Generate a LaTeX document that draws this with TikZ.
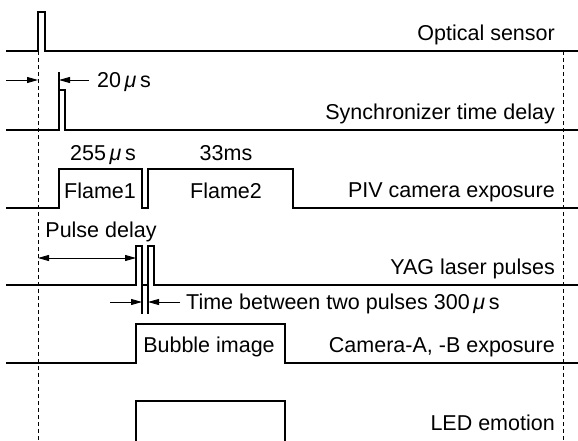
\documentclass[tikz,border=0pt]{standalone}
\usepackage{fontspec}
\setmainfont{Liberation Sans}
\usetikzlibrary{arrows.meta}
\newcommand{\mus}{\,\textit{μ}\,s}

\begin{document}
\begin{tikzpicture}[x=1pt,y=-1pt,
  every node/.style={font=\fontsize{21.5}{25}\selectfont,inner sep=0pt,anchor=base},
  sig/.style={line width=1.1pt},
  lbl/.style={anchor=base east},
  guide/.style={line width=0.7pt,dash pattern=on 4pt off 3pt},
  dim/.style={-{Triangle[length=11pt,width=6pt]},line width=0.8pt}
]
\useasboundingbox (0,0) rectangle (578,440);
% time guides
\draw[guide] (38,51) -- (38,440);
\draw[guide] (563,51) -- (563,440);
% signals
\draw[sig] (6,51) -- (38,51) -- (38,12) -- (45,12) -- (45,51) -- (578,51);
\draw[sig] (6,130) -- (59,130) -- (59,90) -- (65,90) -- (65,130) -- (578,130);
\draw[sig] (6,208) -- (59,208) -- (59,169) -- (142,169) -- (142,208) -- (148,208)
  -- (148,169) -- (293,169) -- (293,208) -- (578,208);
\draw[sig] (6,285) -- (136,285) -- (136,246) -- (142,246) -- (142,285) -- (148,285)
  -- (148,246) -- (154,246) -- (154,285) -- (578,285);
\draw[sig] (6,363) -- (136,363) -- (136,324) -- (285,324) -- (285,363) -- (578,363);
\draw[sig] (136,441) -- (136,401) -- (285,401) -- (285,441);
% ticks
\draw[sig] (59,72) -- (59,90);
\draw[sig] (142,285) -- (142,314);
\draw[sig] (148,285) -- (148,314);
% dimension marks
\coordinate (t0) at (38,80);
\coordinate (t1) at (59,80);
\coordinate (p0) at (38,258);
\coordinate (p1) at (136,258);
\coordinate (b0) at (142,302);
\coordinate (b1) at (148,302);
\draw[dim] (6,80) -- (t0);
\draw[dim] (89,80) -- (t1);
\draw[dim,{Triangle[length=11pt,width=6pt]}-{Triangle[length=11pt,width=6pt]}] (p0) -- (p1);
\draw[dim] (110,302) -- (b0);
\draw[dim] (180,302) -- (b1);
% texts in the chart
\node[anchor=base west] (d20) at (97,87.5) {20\mus};
\node (d255) at (103,160) {255\mus};
\node (d33) at (226,160) {33ms};
\node (f1) at (100,198) {Flame1};
\node (f2) at (226,198) {Flame2};
\node (pd) at (101,237) {Pulse delay};
\node[anchor=base west] (tb) at (186,309) {Time between two pulses 300\mus};
\node (bub) at (209,352) {Bubble image};
% signal names
\foreach \y/\t/\n in {40.5/Optical sensor/os, 119/Synchronizer time delay/sy,
  197/PIV camera exposure/piv, 274/YAG laser pulses/yag,
  352/{Camera-A, -B exposure}/cam, 430/LED emotion/led}
  \node[lbl] (\n) at (555,\y) {\t};
\end{tikzpicture}
\end{document}
